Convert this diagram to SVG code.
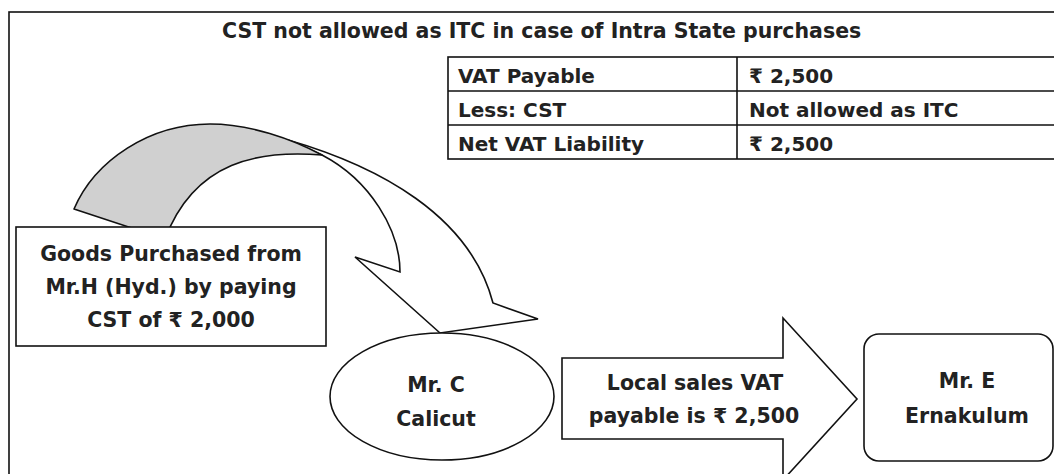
<svg xmlns="http://www.w3.org/2000/svg" width="1054" height="474" viewBox="0 0 1054 474">
<style>
.ln{fill:none;stroke:#111;stroke-width:1.6}
.box{fill:#fff;stroke:#111;stroke-width:1.6}
.t{font-family:"DejaVu Sans","Noto Sans",sans-serif;font-weight:bold;font-size:20.5px;fill:#222}
.tc{text-anchor:middle}
.tb{font-size:20px}
</style>
<rect width="1054" height="474" fill="#fff"/>
<g id="frame">
<rect x="9" y="12" width="1100" height="520" class="ln" stroke-width="2"/>
<text class="t" x="222" y="38">CST not allowed as ITC in case of Intra State purchases</text>
</g>
<g id="table">
<rect x="448" y="57" width="700" height="102" class="box"/>
<path class="ln" d="M448,91H1148M448,125H1148M737,57V159"/>
<text class="t tb" x="458" y="83">VAT Payable</text>
<text class="t tb" x="749" y="83">₹ 2,500</text>
<text class="t tb" x="458" y="117">Less: CST</text>
<text class="t tb" x="749" y="117">Not allowed as ITC</text>
<text class="t tb" x="458" y="151">Net VAT Liability</text>
<text class="t tb" x="749" y="151">₹ 2,500</text>
</g>
<g id="connectors">
<path id="curved-arrow-front" class="box" d="M288,140 C378,166 470,215 493,303 L538,319 L440,333 L355,257 L400,272 C400,230 370,180 322,155 Z"/>
<path id="curved-arrow-back" d="M74,209 C95,160 150,124 210,124 C250,124 292,139 322,155 C260,150 195,160 165,239 Z" fill="#d0d0d0" stroke="#111" stroke-width="1.6" stroke-linejoin="round"/>
<g id="block-arrow">
<polygon class="box" points="562,358 783,358 783,318 857,399 783,480 783,439 562,439"/>
<text class="t tc" x="695" y="390">Local sales VAT</text>
<text class="t tc" x="694" y="423">payable is ₹ 2,500</text>
</g>
</g>
<g id="node-goods">
<rect x="16" y="227" width="310" height="119" class="box"/>
<text class="t tc" x="171" y="261">Goods Purchased from</text>
<text class="t tc" x="171" y="294">Mr.H (Hyd.) by paying</text>
<text class="t tc" x="171" y="327">CST of ₹ 2,000</text>
</g>
<g id="node-mrc">
<ellipse cx="442" cy="396.5" rx="112" ry="63.5" class="box"/>
<text class="t tc" x="436" y="392">Mr. C</text>
<text class="t tc" x="436" y="426">Calicut</text>
</g>
<g id="node-mre">
<rect x="864" y="334" width="189" height="127" rx="15" class="box"/>
<text class="t tc" x="967" y="388">Mr. E</text>
<text class="t tc" x="967" y="423">Ernakulum</text>
</g>
</svg>
